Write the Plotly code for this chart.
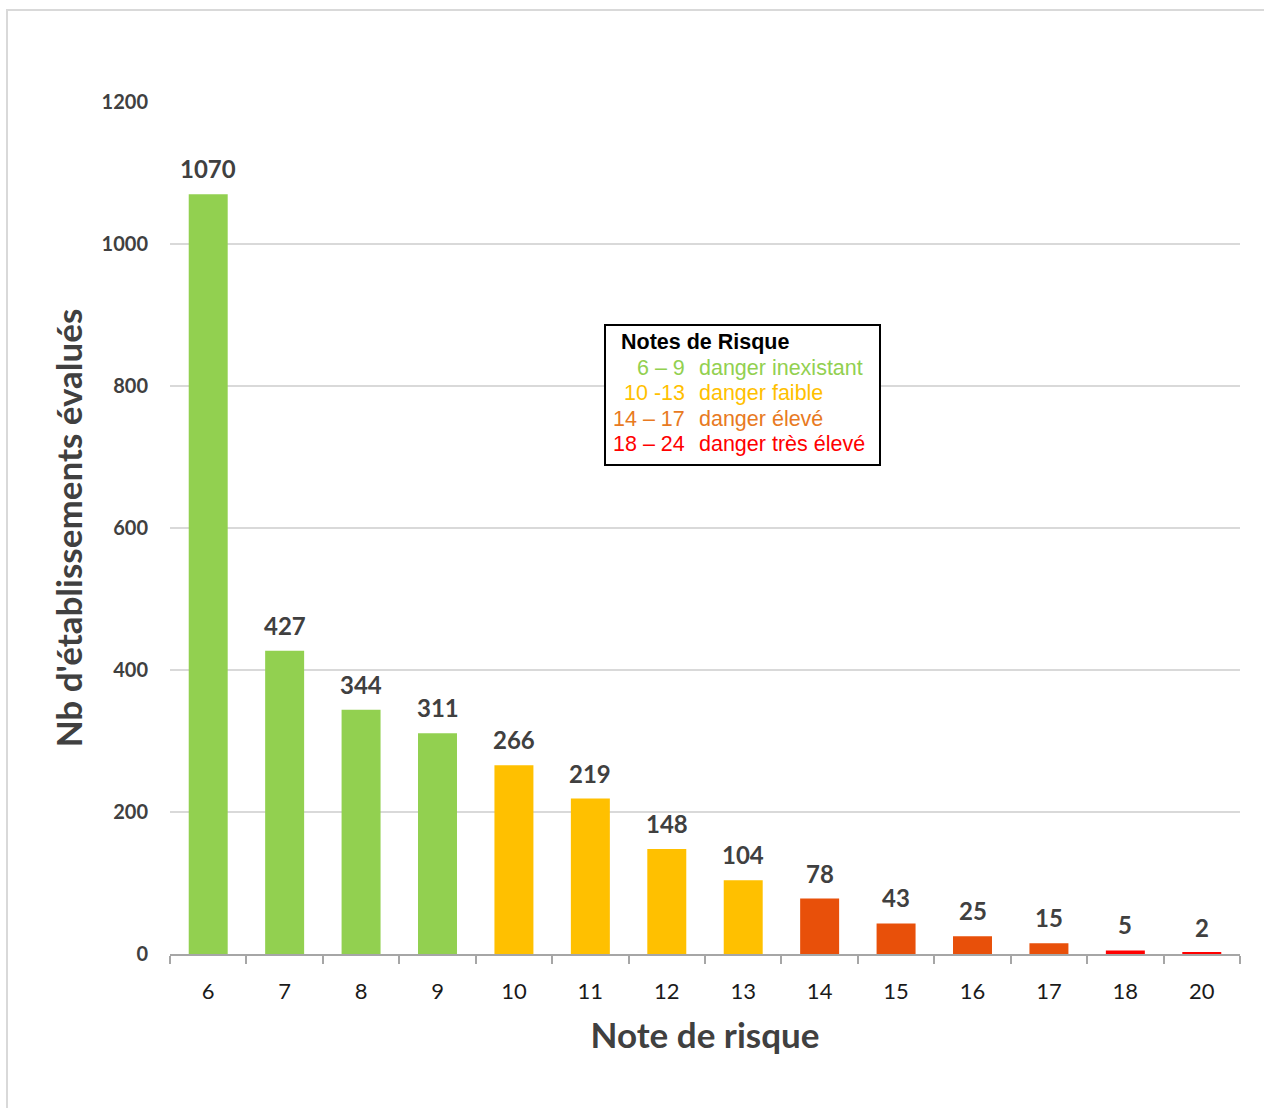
import plotly.graph_objects as go

# Risk score categories and number of evaluated establishments
notes = ["6", "7", "8", "9", "10", "11", "12", "13", "14", "15", "16", "17", "18", "20"]
nb_etablissements = [1070, 427, 344, 311, 266, 219, 148, 104, 78, 43, 25, 15, 5, 2]

# Danger classes (score band, label, bar colour, legend text colour)
classes = [
    ("6 – 9", "danger inexistant", "#92D050", "#92D050"),
    ("10 -13", "danger faible", "#FFC000", "#FFC000"),
    ("14 – 17", "danger élevé", "#E8500A", "#E87A22"),
    ("18 – 24", "danger très élevé", "#FF0000", "#FF0000"),
]


def bar_colour(note):
    n = int(note)
    if n <= 9:
        return classes[0][2]
    if n <= 13:
        return classes[1][2]
    if n <= 17:
        return classes[2][2]
    return classes[3][2]


colours = [bar_colour(n) for n in notes]

W, H = 1264, 1108
L, R, T, B = 170, 24, 102, 154

fig = go.Figure(
    go.Bar(
        x=notes,
        y=nb_etablissements,
        marker=dict(color=colours, line=dict(width=0)),
        cliponaxis=False,
    )
)

fig.update_layout(
    width=W,
    height=H,
    margin=dict(l=L, r=R, t=T, b=B),
    paper_bgcolor="white",
    plot_bgcolor="white",
    bargap=0.49,
    showlegend=False,
)

fig.update_yaxes(
    range=[0, 1200],
    tickvals=[0, 200, 400, 600, 800, 1000, 1200],
    showgrid=True,
    gridcolor="#D9D9D9",
    gridwidth=2,
    zeroline=False,
    showline=False,
    tickfont=dict(family="Lato", size=20, color="#404040", weight="bold"),
    ticklabelstandoff=21,
    title=dict(
        text="Nb d'établissements évalués",
        font=dict(family="Lato", size=35, color="#404040", weight="bold"),
        standoff=8,
    ),
)

fig.update_xaxes(
    type="category",
    categoryorder="array",
    categoryarray=notes,
    range=[-0.5, len(notes) - 0.5],
    showgrid=False,
    showline=True,
    linecolor="#A6A6A6",
    linewidth=2,
    ticks="outside",
    tickson="boundaries",
    ticklen=8,
    tickwidth=2,
    tickcolor="#A6A6A6",
    tickfont=dict(family="Lato", size=22, color="#1a1a1a"),
    ticklabelstandoff=17,
    title=dict(
        text="Note de risque",
        font=dict(family="Lato", size=35, color="#404040", weight="bold"),
        standoff=20,
    ),
)


def px_x(px):
    return (px - L) / (W - L - R)


def px_y(py):
    return (H - B - py) / (H - T - B)


shapes = [
    # outer chart frame
    dict(type="rect", xref="paper", yref="paper",
         x0=px_x(7), x1=px_x(1270), y0=px_y(1115), y1=px_y(10),
         line=dict(color="#D9D9D9", width=2), layer="below"),
    # legend box
    dict(type="rect", xref="paper", yref="paper",
         x0=px_x(605), x1=px_x(880), y0=px_y(465), y1=px_y(325),
         line=dict(color="black", width=2), fillcolor="white", layer="above"),
]

annotations = []

# value labels above each bar (category index positions)
for i, val in enumerate(nb_etablissements):
    annotations.append(dict(
        x=i, y=val, xref="x", yref="y",
        xanchor="center", yanchor="bottom", yshift=9, showarrow=False,
        text=f"<b>{val}</b>",
        font=dict(family="Lato", size=24, color="#404040")))

annotations.append(dict(
    xref="paper", yref="paper", x=px_x(619), y=px_y(342),
    xanchor="left", yanchor="middle", showarrow=False,
    text="<b>Notes de Risque</b>",
    font=dict(family="Liberation Sans", size=21.5, color="black")))

for i, (band, label, _, txt_col) in enumerate(classes):
    ypix = 368 + i * 25.3
    annotations.append(dict(
        xref="paper", yref="paper", x=px_x(687), y=px_y(ypix),
        xanchor="right", yanchor="middle", showarrow=False, text=band,
        font=dict(family="Liberation Sans", size=21.5, color=txt_col)))
    annotations.append(dict(
        xref="paper", yref="paper", x=px_x(697), y=px_y(ypix),
        xanchor="left", yanchor="middle", showarrow=False, text=label,
        font=dict(family="Liberation Sans", size=21.5, color=txt_col)))

fig.update_layout(shapes=shapes, annotations=annotations)

fig.write_html("out.html")
